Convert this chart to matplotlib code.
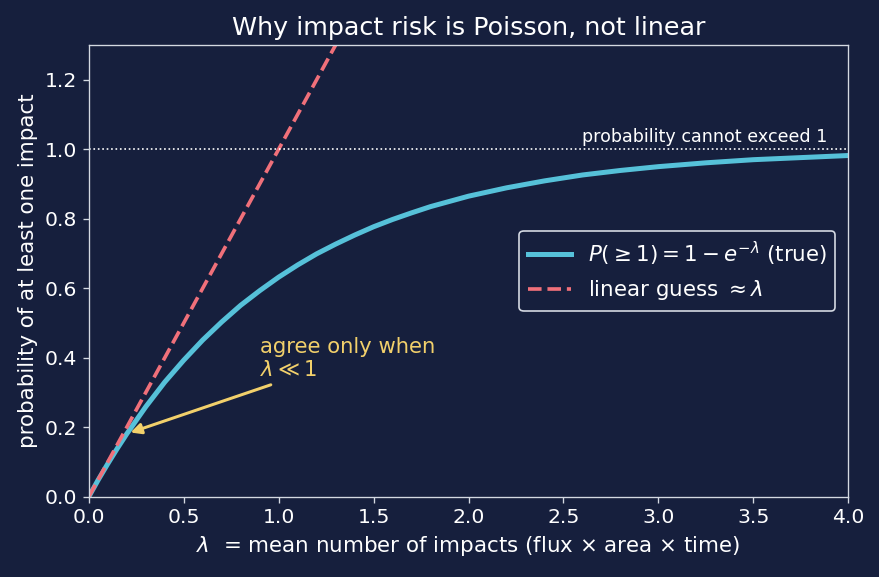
import matplotlib
matplotlib.use("Agg")
import matplotlib.pyplot as plt
import numpy as np

# values
lam = [0.0, 0.05, 0.1, 0.15, 0.2, 0.3, 0.4, 0.5, 0.6, 0.7, 0.8, 0.9, 1.0,
       1.1, 1.2, 1.3, 1.4, 1.5, 1.6, 1.7, 1.8, 1.9, 2.0, 2.2, 2.4, 2.6, 2.8, 3.0,
       3.25, 3.5, 3.75, 4.0]
p_true = [0.0, 0.049, 0.095, 0.139, 0.181, 0.259, 0.330, 0.393, 0.451, 0.503, 0.551, 0.593, 0.632,
          0.667, 0.699, 0.727, 0.753, 0.777, 0.798, 0.817, 0.835, 0.850, 0.865, 0.889, 0.909,
          0.926, 0.939, 0.950, 0.961, 0.970, 0.976, 0.982]
lam_lin = [0.0, 1.4]
p_lin = [0.0, 1.4]

bg = "#161f3d"
fg = "#d4d9e2"

fig = plt.figure(figsize=(879 / 120, 577 / 120), dpi=120, facecolor=bg)
ax = fig.add_axes([0.101, 0.139, 0.864, 0.783], facecolor=bg)

ax.plot(lam, p_true, color="#56c1d9", lw=3, label=r"$P(\geq 1) = 1 - e^{-\lambda}$ (true)")
ax.plot(lam_lin, p_lin, color="#f0707a", lw=2.2, ls="--", label=r"linear guess $\approx \lambda$")
ax.axhline(1.0, color="white", lw=1, ls=":")
ax.text(2.6, 1.02, "probability cannot exceed 1", color="white", fontsize=10.5)

ax.annotate("agree only when\n" + r"$\lambda \ll 1$", xy=(0.22, 0.185), xytext=(0.9, 0.335),
            color="#f2d06b", fontsize=12.7, ha="left", va="bottom",
            arrowprops=dict(arrowstyle="-|>", color="#f2d06b", lw=1.8, mutation_scale=13,
                            shrinkA=2, shrinkB=0))

ax.set_xlim(0, 4)
ax.set_ylim(0, 1.3)
ax.set_xticks(np.arange(0, 4.01, 0.5))
ax.set_yticks(np.arange(0, 1.21, 0.2))
ax.set_title("Why impact risk is Poisson, not linear", color="white", fontsize=15.2)
ax.set_xlabel(r"$\lambda$  = mean number of impacts (flux × area × time)", color="white", fontsize=12.8)
ax.set_ylabel("probability of at least one impact", color="white", fontsize=12.8)
ax.tick_params(colors=fg, labelcolor="white", labelsize=12.2)
for s in ax.spines.values():
    s.set_color(fg)

leg = ax.legend(loc="center right", fontsize=12.8, facecolor=bg, edgecolor=fg, framealpha=1,
                borderaxespad=0.6)
for t in leg.get_texts():
    t.set_color("white")

plt.savefig("out.png", facecolor=bg)
